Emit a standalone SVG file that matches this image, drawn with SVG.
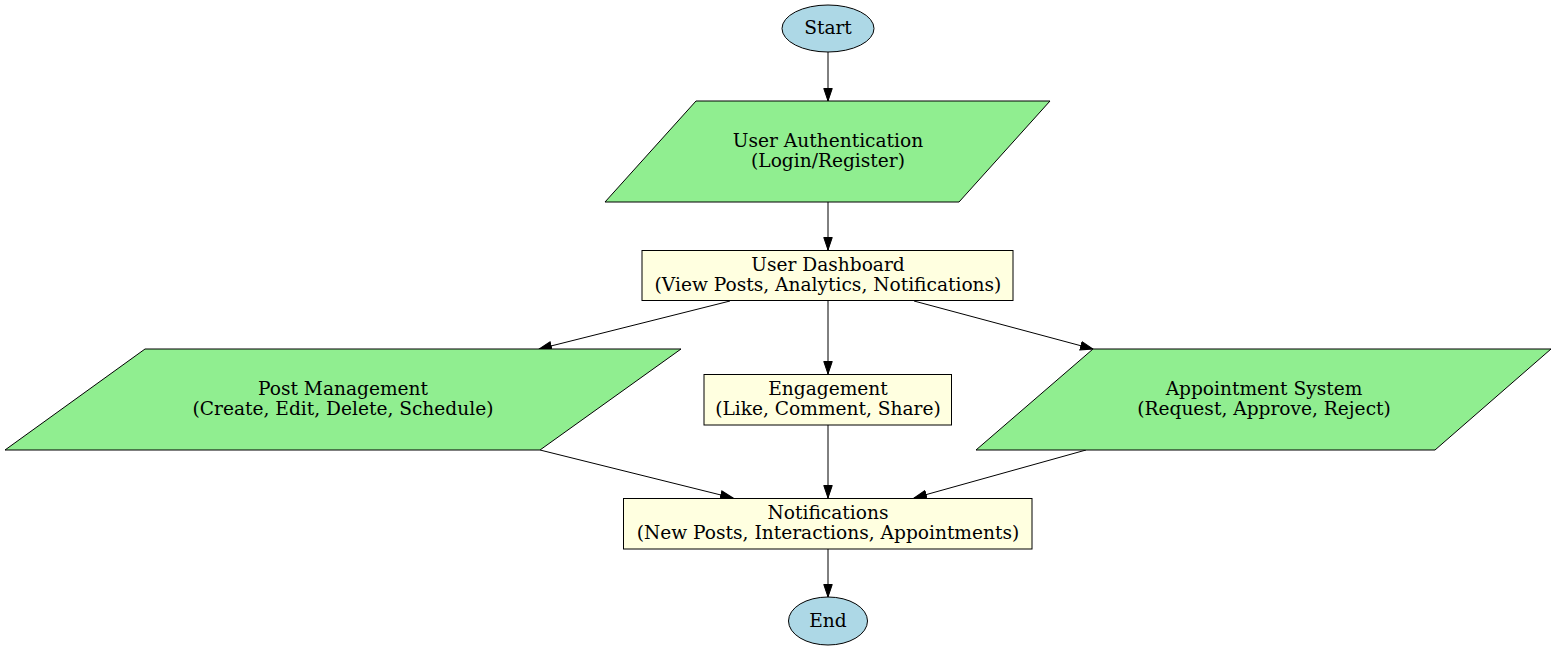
<svg xmlns="http://www.w3.org/2000/svg" width="1557" height="651" viewBox="0 0 1557 651">
<style>
text{font-family:"DejaVu Serif","Liberation Serif",serif;font-size:18.6px;fill:#000;text-anchor:middle}
.term{fill:#add8e6;stroke:#000;stroke-width:1}
.io{fill:#90ee90;stroke:#000;stroke-width:1}
.proc{fill:#ffffe0;stroke:#000;stroke-width:1}
.edge{stroke:#000;stroke-width:1;fill:none;marker-end:url(#arr)}
</style>
<defs>
<marker id="arr" markerWidth="14" markerHeight="11" refX="13" refY="4.75" orient="auto" markerUnits="userSpaceOnUse">
<path d="M0.5,0.5 L13,4.75 L0.5,9 z" fill="#000" stroke="#000" stroke-width="1"/>
</marker>
</defs>
<rect width="1557" height="651" fill="#fff"/>
<g id="connectors">
<line class="edge" x1="828" y1="52" x2="828" y2="101"/>
<line class="edge" x1="828" y1="202" x2="828" y2="250"/>
<line class="edge" x1="730" y1="301" x2="539" y2="349"/>
<line class="edge" x1="828" y1="301" x2="828" y2="374"/>
<line class="edge" x1="914" y1="301" x2="1093" y2="349"/>
<line class="edge" x1="540" y1="450" x2="733" y2="498"/>
<line class="edge" x1="828" y1="425" x2="828" y2="498"/>
<line class="edge" x1="1086" y1="450" x2="914" y2="498"/>
<line class="edge" x1="828" y1="549" x2="828" y2="597"/>
</g>
<g id="start">
<ellipse class="term" cx="828" cy="28.5" rx="46" ry="23.5"/>
<text x="828" y="34">Start</text>
</g>
<g id="auth">
<polygon class="io" points="696,101 1050,101 959,202 605,202"/>
<text x="828" y="147">User Authentication</text>
<text x="828" y="167">(Login/Register)</text>
</g>
<g id="dashboard">
<rect class="proc" x="642" y="250.5" width="371" height="50"/>
<text x="828" y="271">User Dashboard</text>
<text x="828" y="291">(View Posts, Analytics, Notifications)</text>
</g>
<g id="post">
<polygon class="io" points="145,349 681,349 540,450 5,450"/>
<text x="343" y="395">Post Management</text>
<text x="343" y="415">(Create, Edit, Delete, Schedule)</text>
</g>
<g id="engagement">
<rect class="proc" x="704" y="374.5" width="247.5" height="50.5"/>
<text x="828" y="395">Engagement</text>
<text x="828" y="415">(Like, Comment, Share)</text>
</g>
<g id="appointment">
<polygon class="io" points="1093,349 1551,349 1435,450 976,450"/>
<text x="1264" y="395">Appointment System</text>
<text x="1264" y="415">(Request, Approve, Reject)</text>
</g>
<g id="notifications">
<rect class="proc" x="623.5" y="498.5" width="408.5" height="50.5"/>
<text x="828" y="519">Notifications</text>
<text x="828" y="539">(New Posts, Interactions, Appointments)</text>
</g>
<g id="end">
<ellipse class="term" cx="828" cy="621" rx="39.5" ry="24"/>
<text x="828" y="626.5">End</text>
</g>
</svg>
